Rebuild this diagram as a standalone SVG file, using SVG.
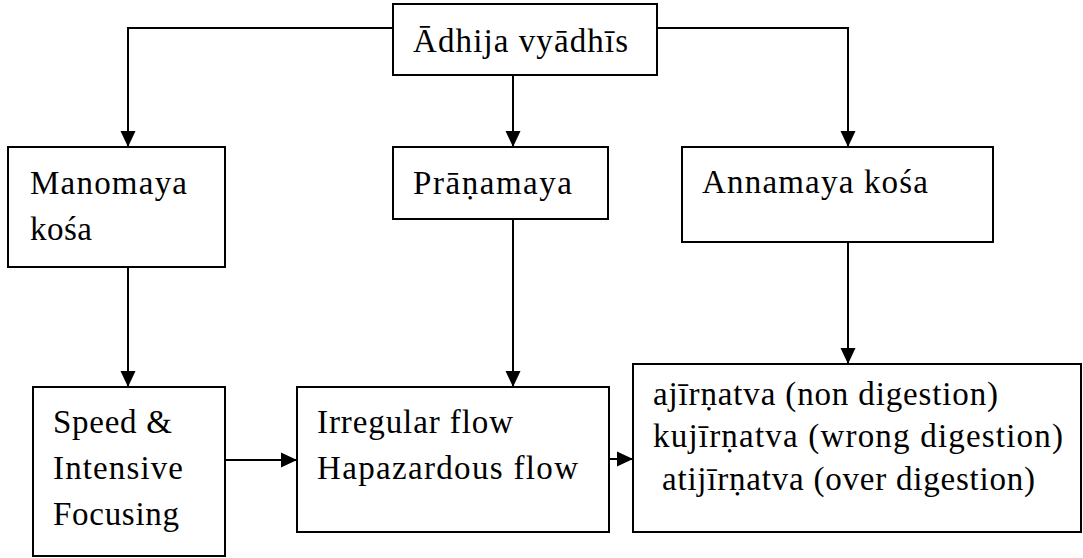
<svg xmlns="http://www.w3.org/2000/svg" width="1083" height="558" viewBox="0 0 1083 558">
<style>
.box{fill:#fff;stroke:#000;stroke-width:2}
.t{font-family:"Liberation Serif","Times New Roman",serif;font-size:33px;fill:#000}
.c{fill:none;stroke:#000;stroke-width:2}
</style>
<defs>
<marker id="ah" markerUnits="userSpaceOnUse" markerWidth="16" markerHeight="16" viewBox="0 0 16 16" refX="16" refY="8" orient="auto">
<path d="M0,0.5 L16,8 L0,15.5 Z" fill="#000"/>
</marker>
</defs>
<rect width="1083" height="558" fill="#fff"/>
<g id="connectors">
<path class="c" d="M393,28 H128 V147" marker-end="url(#ah)"/>
<path class="c" d="M657,28 H848 V147" marker-end="url(#ah)"/>
<path class="c" d="M513,75 V147" marker-end="url(#ah)"/>
<path class="c" d="M128,267 V387" marker-end="url(#ah)"/>
<path class="c" d="M513,219 V387" marker-end="url(#ah)"/>
<path class="c" d="M848,242 V364" marker-end="url(#ah)"/>
<path class="c" d="M225,460 H297" marker-end="url(#ah)"/>
<path class="c" d="M609,459 H633" marker-end="url(#ah)"/>
</g>
<g id="adhija">
<rect class="box" x="393" y="4" width="264" height="71"/>
<text class="t" x="413" y="52" textLength="215">Ādhija vyādhīs</text>
</g>
<g id="manomaya">
<rect class="box" x="8" y="147" width="217" height="120"/>
<text class="t" x="30" y="194" textLength="157">Manomaya</text>
<text class="t" x="30" y="240" textLength="62">kośa</text>
</g>
<g id="pranamaya">
<rect class="box" x="393" y="147" width="215" height="72"/>
<text class="t" x="413" y="194" textLength="159">Prāṇamaya</text>
</g>
<g id="annamaya">
<rect class="box" x="682" y="147" width="311" height="95"/>
<text class="t" x="702" y="193" textLength="226">Annamaya kośa</text>
</g>
<g id="speed">
<rect class="box" x="33" y="387" width="192" height="169"/>
<text class="t" x="53" y="433" textLength="119">Speed &amp;</text>
<text class="t" x="53" y="479" textLength="130">Intensive</text>
<text class="t" x="53" y="525" textLength="126">Focusing</text>
</g>
<g id="flow">
<rect class="box" x="297" y="387" width="312" height="145"/>
<text class="t" x="317" y="433" textLength="196">Irregular flow</text>
<text class="t" x="317" y="479" textLength="261">Hapazardous flow</text>
</g>
<g id="digestion">
<rect class="box" x="633" y="364" width="448" height="168"/>
<text class="t" x="653" y="405" textLength="345">ajīrṇatva (non digestion)</text>
<text class="t" x="653" y="447" textLength="410">kujīrṇatva (wrong digestion)</text>
<text class="t" x="662" y="490" textLength="373">atijīrṇatva (over digestion)</text>
</g>
</svg>
